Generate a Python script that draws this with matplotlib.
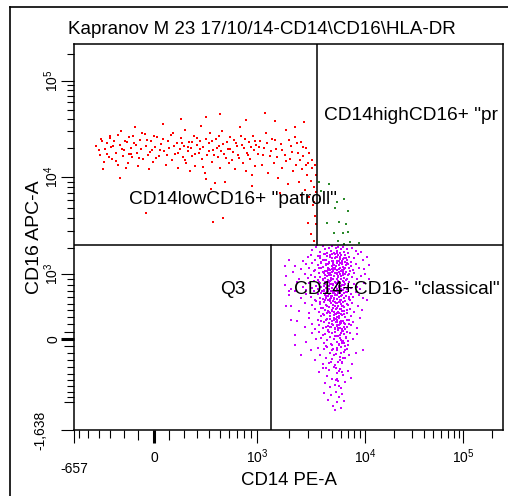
import numpy as np
import matplotlib
matplotlib.use('Agg')
import matplotlib.pyplot as plt
from matplotlib.lines import Line2D

plt.rcParams['font.family'] = ['Liberation Sans', 'DejaVu Sans']
plt.rcParams['mathtext.fontset'] = 'custom'
plt.rcParams['mathtext.rm'] = 'Liberation Sans'
plt.rcParams['mathtext.it'] = 'Liberation Sans'

TITLE = 'Kapranov M 23 17/10/14-CD14\\CD16\\HLA-DR'
X_LABEL = 'CD14 PE-A'
Y_LABEL = 'CD16 APC-A'

# axis range
X_MIN, X_MAX = -657, 262144
Y_MIN, Y_MAX = -1638, 262144

# gates (quadrant lines)
QX_UPPER = 3670
QX_LOWER = 1377
QY = 2150

# quadrant names as far as they show in the plot, and where they sit
Q_NAMES = ['CD14highCD16+ "pr', 'CD14lowCD16+ "patroll"',
           'Q3', 'CD14+CD16- "classical"']
Q_POS = [(4260, 43500), (-163, 6070), (507, 731), (2247, 731)]

# biexponential display: value -> pixel position on the original axes
X_ANCHOR_VALS = [-657, 0, 1000, 10000, 100000, 262144]
X_ANCHOR_PIX = [74, 154, 257, 365, 463, 503]
X_WIDTH = 400
Y_ANCHOR_VALS = [-1638, 0, 1000, 10000, 100000, 262144]
Y_ANCHOR_PIX = [430, 339, 274, 177, 81, 44]
Y_WIDTH = 1000

# CD14low CD16+ events (red)
RED = [
    (-420, 21000), (-390, 17000), (-380, 25000), (-350, 14500), (-340, 19500), (-330, 22500),
    (-315, 16000), (-305, 27000), (-360, 12000),
    (-295, 20500), (-285, 15500), (-270, 24000), (-255, 18000), (-245, 13500), (-230, 21500),
    (-220, 30000), (-205, 16500), (-195, 19000), (-185, 12500), (-175, 23000), (-165, 17500),
    (-160, 26000), (-230, 9700), (-170, 14000),
    (-150, 20000), (-140, 16000), (-130, 22500), (-120, 33000), (-110, 18000), (-100, 13000),
    (-90, 24500), (-80, 19500), (-70, 15500), (-60, 28000), (-50, 21000), (-40, 17000),
    (-30, 12000), (-20, 23500), (-12, 19000), (-5, 14500), (-50, 4500),
    (8, 20500), (20, 26000), (30, 16500), (45, 22000), (55, 36000), (65, 18500), (75, 13500),
    (90, 24000), (100, 20000), (115, 15000), (125, 29000), (140, 17500), (150, 22500),
    (160, 12500), (170, 19500), (180, 25500), (190, 16000), (200, 21000), (210, 31000),
    (215, 14000), (225, 18500), (235, 23000), (240, 11500), (175, 40000),
    (250, 20000), (260, 16500), (272, 27000), (285, 13000), (295, 21500), (310, 18000),
    (320, 24000), (330, 34000), (340, 15500), (350, 20500), (362, 11000), (372, 9500),
    (382, 17000), (395, 22500), (410, 28500), (425, 14500), (440, 19000), (455, 8800),
    (465, 25000), (480, 16000), (495, 21000), (510, 12500), (525, 30500), (545, 17500),
    (560, 9000), (580, 23000), (600, 14000), (370, 42000), (505, 45000), (415, 7600),
    (540, 4000), (440, 3700),
    (620, 19500), (640, 15000), (660, 24500), (680, 12000), (700, 21000), (720, 17000),
    (740, 33000), (760, 27000), (780, 14000), (800, 20000), (820, 11500), (845, 18000),
    (870, 23000), (890, 15500), (910, 10500), (930, 26500), (950, 19000), (970, 13000),
    (990, 21500), (830, 39000), (920, 8200),
    (1030, 17500), (1080, 23500), (1120, 13500), (1170, 20000), (1220, 29000), (1280, 11000),
    (1330, 16500), (1390, 25000), (1450, 14000), (1520, 19500), (1600, 9800), (1680, 22000),
    (1750, 12500), (1830, 17000), (1900, 31000), (1960, 8500), (1200, 46000), (1500, 38000),
    (1650, 7000),
    (2050, 15500), (2120, 21000), (2200, 11500), (2280, 26000), (2350, 13500), (2430, 18000),
    (2500, 9000), (2580, 23000), (2650, 12000), (2730, 16500), (2800, 7500), (2880, 20000),
    (2950, 10500), (3030, 14000), (3100, 6500), (3180, 9200), (3260, 12500), (3330, 5400),
    (3400, 8000), (3480, 4200), (3550, 10500), (3600, 3500), (2600, 6800), (3000, 3600),
    (3200, 2800), (2300, 33000), (2750, 37000), (3400, 2400),
    (-400, 19000), (-370, 23500), (-325, 17500), (-300, 25500), (-280, 21000), (-260, 14800),
    (-240, 27500), (-210, 19800), (-190, 23800), (-150, 17200), (-135, 26500), (-115, 21800),
    (-95, 15800), (-75, 29000), (-45, 24200), (-25, 18200), (0, 27000), (12, 15800),
    (38, 19200), (58, 24800), (82, 17000), (108, 27500), (132, 21200), (155, 18000),
    (185, 22800), (205, 15200), (230, 20500), (255, 23200), (278, 17200), (300, 25800),
    (325, 19800), (345, 12800), (375, 24800), (400, 18800), (430, 23800), (450, 16800),
    (470, 20200), (490, 26800), (515, 18600), (535, 22200), (570, 15800), (590, 19800),
    (610, 26200), (650, 18200), (690, 22800), (730, 15800), (770, 21800), (810, 24800),
    (855, 16800), (900, 20800), (960, 23800), (1050, 20500), (1150, 16800), (1250, 22800),
    (1350, 18800), (1480, 24200), (1560, 16200), (1720, 19200), (1880, 14800), (2000, 24500),
    (2150, 18200), (2400, 22500), (2550, 15200), (2700, 20800), (2900, 13200), (3100, 17800),
    (3300, 15200), (3500, 13200), (3600, 7200), (3450, 5800),
]

# CD14high CD16+ events (green)
GREEN = [
    (3800, 9000), (4000, 7300), (4700, 8600), (3900, 6100), (5600, 5800), (6400, 6200),
    (5300, 5000), (7000, 4700), (4500, 3600), (5800, 3700), (6700, 3500), (5200, 2850),
    (6300, 2900), (7000, 2950), (5700, 2400), (7300, 2300), (8800, 2250), (6500, 2200),
]

# CD14+ CD16- events (magenta)
MAGENTA = [
    (3300, 1900), (3600, 2050), (3900, 1820), (4100, 2100), (4300, 1950), (4500, 1780),
    (4700, 2020), (4900, 1880), (5000, 2110), (5200, 1760), (5400, 1990), (5600, 1850),
    (5700, 2080), (5900, 1800), (6100, 1940), (6300, 2060), (6500, 1830), (6800, 1970),
    (7000, 1790), (7600, 2000), (8300, 1870), (9200, 1810),
    (2700, 1450), (3000, 1600), (3200, 1700), (3500, 1480), (3700, 1650), (3900, 1550),
    (4000, 1420), (4200, 1720), (4400, 1500), (4500, 1630), (4700, 1410), (4800, 1690),
    (5000, 1560), (5100, 1460), (5300, 1740), (5400, 1600), (5600, 1430), (5700, 1670),
    (5900, 1520), (6100, 1700), (6200, 1450), (6400, 1580), (6600, 1680), (6900, 1470),
    (7200, 1620), (7500, 1400), (8000, 1550), (8600, 1720), (9500, 1480), (10500, 1600),
    (2300, 1250), (2600, 1150), (2900, 1330), (3100, 1200), (3300, 1380), (3500, 1120),
    (3700, 1290), (3800, 1180), (4000, 1360), (4100, 1240), (4300, 1110), (4400, 1320),
    (4600, 1200), (4700, 1390), (4800, 1140), (5000, 1280), (5100, 1350), (5200, 1170),
    (5400, 1250), (5500, 1390), (5600, 1130), (5800, 1310), (5900, 1210), (6000, 1100),
    (6200, 1340), (6300, 1230), (6500, 1150), (6700, 1290), (6900, 1380), (7100, 1190),
    (7400, 1260), (7800, 1120), (8200, 1330), (8800, 1210), (9800, 1150), (11000, 1300),
    (1900, 960), (2200, 1050), (2500, 900), (2800, 1010), (3000, 920), (3200, 980),
    (3400, 1080), (3500, 940), (3700, 895), (3800, 1040), (3900, 950), (4100, 910),
    (4200, 1020), (4300, 930), (4500, 1090), (4600, 890), (4700, 990), (4900, 925),
    (5000, 1060), (5100, 905), (5200, 970), (5400, 1030), (5500, 915), (5600, 1000),
    (5700, 945), (5800, 1070), (6000, 900), (6100, 960), (6300, 1045), (6400, 920),
    (6600, 1005), (6800, 910), (7000, 975), (7300, 1085), (7600, 935), (8000, 1025),
    (8500, 905), (9200, 965), (10000, 1010),
    (1850, 800), (2100, 730), (2400, 860), (2700, 770), (2900, 720), (3100, 830),
    (3300, 745), (3400, 875), (3600, 790), (3700, 725), (3800, 845), (4000, 760),
    (4100, 880), (4200, 720), (4300, 810), (4400, 740), (4500, 855), (4600, 775),
    (4700, 730), (4800, 825), (4900, 885), (5000, 755), (5100, 800), (5200, 718),
    (5300, 860), (5400, 770), (5500, 815), (5600, 735), (5700, 875), (5800, 765),
    (5900, 835), (6000, 725), (6200, 800), (6300, 870), (6400, 745), (6600, 825),
    (6800, 730), (7000, 790), (7200, 850), (7500, 740), (7900, 810), (8400, 770),
    (9000, 725), (9800, 830),
    (2000, 630), (2300, 690), (2600, 580), (2900, 650), (3200, 605), (3400, 705),
    (3500, 560), (3700, 645), (3800, 690), (3900, 590), (4000, 660), (4100, 565),
    (4200, 705), (4300, 625), (4400, 580), (4500, 675), (4600, 610), (4700, 645),
    (4800, 570), (4900, 695), (5000, 615), (5100, 665), (5200, 590), (5300, 655),
    (5400, 705), (5500, 570), (5600, 635), (5700, 685), (5800, 600), (5900, 660),
    (6000, 560), (6100, 695), (6200, 625), (6400, 585), (6500, 670), (6700, 615),
    (6900, 685), (7100, 570), (7400, 645), (7700, 600), (8200, 675), (8800, 625),
    (9500, 585),
    (2100, 460), (2500, 395), (2800, 510), (3100, 355), (3300, 480), (3500, 420),
    (3600, 540), (3800, 370), (3900, 495), (4000, 435), (4100, 345), (4200, 525),
    (4300, 405), (4400, 480), (4500, 365), (4600, 550), (4700, 450), (4800, 355),
    (4900, 505), (5000, 410), (5100, 535), (5200, 380), (5300, 465), (5400, 340),
    (5500, 515), (5600, 440), (5700, 370), (5800, 530), (5900, 425), (6000, 490),
    (6100, 345), (6300, 465), (6400, 395), (6600, 540), (6800, 355), (7000, 480),
    (7300, 420), (7600, 515), (8000, 380), (8600, 465), (9300, 405),
    (2400, 250), (2800, 160), (3100, 290), (3300, 200), (3500, 130), (3700, 265),
    (3800, 185), (4000, 315), (4100, 145), (4200, 230), (4400, 170), (4500, 280),
    (4600, 125), (4700, 215), (4800, 310), (4900, 160), (5000, 250), (5100, 185),
    (5200, 295), (5300, 135), (5400, 230), (5500, 175), (5600, 265), (5700, 145),
    (5800, 320), (5900, 205), (6100, 250), (6200, 140), (6400, 220), (6600, 300),
    (6800, 165), (7100, 265), (7400, 190), (7800, 235), (8400, 155), (9000, 285),
    (2300, 50), (2900, -35), (3300, 85), (3600, 0), (3800, 100), (4000, 15),
    (4200, -55), (4300, 70), (4500, -20), (4600, 110), (4800, 30), (4900, -75),
    (5000, 80), (5200, 5), (5300, 95), (5500, -45), (5600, 40), (5800, -85),
    (5900, 60), (6100, -10), (6300, 105), (6500, -60), (6700, 25), (7000, -30),
    (7300, 85), (7800, -5), (8500, 65),
    (3200, -160), (3500, -300), (3700, -125), (3900, -230), (4100, -355), (4200, -140),
    (4400, -265), (4500, -110), (4700, -335), (4800, -195), (5000, -280), (5100, -135),
    (5300, -365), (5400, -215), (5600, -150), (5700, -320), (5900, -250), (6000, -115),
    (6200, -340), (6400, -180), (6600, -275), (6900, -140), (7200, -230), (7600, -350),
    (8200, -195),
    (3800, -480), (4100, -410), (4300, -660), (4500, -540), (4700, -440), (4800, -720),
    (5000, -590), (5200, -395), (5300, -690), (5500, -490), (5700, -620), (5900, -425),
    (6100, -740), (6300, -525), (6600, -640), (7000, -460), (7500, -570),
    (4200, -820), (4600, -950), (4900, -860), (5100, -1080), (5400, -800), (5600, -1000),
    (5800, -900), (6200, -840), (6500, -980), (5300, -1150), (6000, -1120),
    (1850, 1250), (2000, 690), (1900, 460), (2100, 260), (2300, -90), (2600, -230),
    (2000, 1500), (10500, 560), (11000, 900), (9500, -150),
    (4420, 1310), (4630, 1040), (4790, 872), (5020, 705), (5180, 566), (5430, 418),
    (5590, 296), (5820, 188), (5980, 83), (6230, -37), (4480, 955), (4720, 782),
    (4910, 618), (5130, 484), (5290, 352), (5520, 227), (5680, 124), (5930, 12),
    (6070, -118), (6330, -262), (4280, 858), (4570, 694), (4830, 537), (4970, 392),
    (5230, 257), (5370, 152), (5640, 44), (5770, -72), (6040, -197), (6180, -328),
    (5070, 1205), (5330, 1018), (5470, 843), (5730, 664), (5870, 517), (6130, 383),
    (6270, 247), (6530, 134), (6670, 18), (6930, -88), (4680, 1163), (4940, 987),
    (5060, 824), (5320, 637), (5480, 503), (5740, 357), (5860, 232), (6140, 107),
    (6260, -23), (6540, -153), (4960, 1455), (5240, 1297), (5360, 1148), (5640, 963),
    (5760, 777), (6040, 612), (6160, 468), (6440, 343), (6560, 207), (6840, 93),
    (4230, 1496), (4370, 622), (4640, 383), (4770, 158), (5040, -82), (5170, -223),
    (5430, -418), (5570, -583), (5830, -467), (5970, -302), (5530, 1603), (5870, 1376),
    (6330, 1104), (6660, 884), (7130, 597), (7460, 322), (6370, 803), (6830, 497),
    (7170, 203), (6620, -97),
    (3850, 1630), (4150, 1480), (4350, 1750), (4550, 1350), (4750, 1590), (4950, 1720),
    (5150, 1390), (5350, 1560), (5550, 1780), (5750, 1440), (5950, 1620), (6150, 1360),
    (6350, 1520), (6550, 1410), (6750, 1560), (7050, 1340),
    (3950, 1180), (4150, 1060), (4350, 980), (4550, 1130), (4750, 1020), (4950, 1150),
    (5150, 1080), (5350, 1190), (5550, 1040), (5750, 1160), (5950, 1010), (6150, 1120),
    (6350, 990), (6550, 1210), (6750, 1060), (7150, 1000),
    (3850, 840), (4050, 700), (4250, 790), (4450, 660), (4650, 860), (4850, 700),
    (5050, 820), (5250, 680), (5450, 760), (5650, 830), (5850, 690), (6050, 790),
    (6250, 720), (6450, 860), (6650, 680), (7050, 760),
    (3900, 520), (4100, 440), (4300, 560), (4500, 470), (4700, 380), (4900, 580),
    (5100, 430), (5300, 520), (5500, 360), (5700, 470), (5900, 560), (6100, 420),
    (6300, 530), (6500, 450), (6900, 400), (7300, 560),
    (4000, 240), (4200, 330), (4400, 260), (4600, 180), (4800, 280), (5000, 200),
    (5200, 330), (5400, 270), (5600, 190), (5800, 290), (6000, 220), (6200, 330),
    (6400, 160), (6800, 260),
    (4100, 50), (4400, -100), (4700, 90), (5000, -160), (5300, 40), (5600, -120),
    (5900, 150), (6200, -60), (6500, 70),
    (4400, -420), (4900, -330), (5400, -600), (5800, -700), (6200, -480),
]

RED_COLOR = '#ff0000'
GREEN_COLOR = '#2a8a2a'
MAGENTA_COLOR = '#cc00ff'


def biex_scale(vals, pix, width, flip=False):
    """Piecewise biexponential-like scale through the anchor ticks."""
    u = np.arcsinh(np.asarray(vals, float) / width)
    p = np.asarray(pix, float)
    if flip:
        p = -p
    # extend linearly past the ends so the mapping stays invertible
    s0 = (p[1] - p[0]) / (u[1] - u[0])
    s1 = (p[-1] - p[-2]) / (u[-1] - u[-2])
    u = np.concatenate([[u[0] - 50], u, [u[-1] + 50]])
    p = np.concatenate([[p[0] - 50 * s0], p, [p[-1] + 50 * s1]])

    def fwd(v):
        return np.interp(np.arcsinh(np.asarray(v, float) / width), u, p)

    def inv(q):
        return width * np.sinh(np.interp(np.asarray(q, float), p, u))

    return fwd, inv


def sup(n):
    return r'$\mathregular{10^{%d}}$' % n


fig = plt.figure(figsize=(5.08, 4.96), dpi=100)
fig.patch.set_facecolor('white')
ax = fig.add_axes([74 / 508, 66 / 496, 429 / 508, 386 / 496])

ax.set_xscale('function', functions=biex_scale(X_ANCHOR_VALS, X_ANCHOR_PIX, X_WIDTH))
ax.set_yscale('function', functions=biex_scale(Y_ANCHOR_VALS, Y_ANCHOR_PIX, Y_WIDTH, flip=True))
ax.set_xlim(X_MIN, X_MAX)
ax.set_ylim(Y_MIN, Y_MAX)

for pts, col, size in [(RED, RED_COLOR, 3.0), (GREEN, GREEN_COLOR, 3.0), (MAGENTA, MAGENTA_COLOR, 3.5)]:
    xs, ys = np.array(pts, float).T
    ax.scatter(xs, ys, s=size, c=col, marker='s', linewidths=0, zorder=2)

# quadrant gates
ax.plot([QX_UPPER, QX_UPPER], [QY, Y_MAX], color='black', lw=1.1, zorder=3)
ax.plot([QX_LOWER, QX_LOWER], [Y_MIN, QY], color='black', lw=1.1, zorder=3)
ax.plot([X_MIN, X_MAX], [QY, QY], color='black', lw=1.1, zorder=3)

for name, (qx, qy) in zip(Q_NAMES, Q_POS):
    ax.text(qx, qy, name, fontsize=13.8, ha='left', va='center', clip_on=True, zorder=4)

for sp in ax.spines.values():
    sp.set_linewidth(1.1)

ax.tick_params(which='both', direction='out', width=0.8, colors='black', labelsize=10)
ax.tick_params(which='major', length=9.4)
ax.tick_params(which='minor', length=5.4)
ax.tick_params(axis='x', which='major', pad=14)
ax.tick_params(axis='y', which='major', pad=0)

X_MAJOR = [-657, 0, 1000, 10000, 100000]
X_MAJOR_LABELS = ['', '0', sup(3), sup(4), sup(5)]
X_MINOR = ([-600, -500, -400, -300, -200, -100] + list(range(100, 1000, 100))
           + list(range(2000, 10000, 1000)) + list(range(20000, 100000, 10000)) + [200000])
Y_MAJOR = [-1638, 0, 1000, 10000, 100000]
Y_MAJOR_LABELS = ['', '0', sup(3), sup(4), sup(5)]
Y_MINOR = (list(range(-1000, 0, 100)) + list(range(100, 1000, 100))
           + list(range(2000, 10000, 1000)) + list(range(20000, 100000, 10000)) + [200000])

ax.set_xticks(X_MAJOR)
ax.set_xticklabels(X_MAJOR_LABELS, va='baseline')
ax.set_xticks(X_MINOR, minor=True)
ax.set_yticks(Y_MAJOR)
ax.set_yticklabels(Y_MAJOR_LABELS, rotation=90, va='center')
ax.set_yticks(Y_MINOR, minor=True)

# thick zero ticks, medium ticks around zero and at -1000
ax.xaxis.get_major_ticks()[1].tick1line.set_markeredgewidth(2.2)
ax.yaxis.get_major_ticks()[1].tick1line.set_markeredgewidth(2.2)
xmin_ticks = ax.xaxis.get_minor_ticks()
for i, v in enumerate(X_MINOR):
    if v in (-100, 100):
        xmin_ticks[i].tick1line.set_markersize(7.4)
ymin_ticks = ax.yaxis.get_minor_ticks()
for i, v in enumerate(Y_MINOR):
    if v in (-1000, -100, 100):
        ymin_ticks[i].tick1line.set_markersize(7.4)

# the two negative limits are labelled off the normal spot
ax.text(X_MIN, -0.111, '-657', transform=ax.get_xaxis_transform(), fontsize=10,
        ha='center', va='baseline')
ax.text(-0.063, Y_MIN, '-1,638', transform=ax.get_yaxis_transform(), fontsize=10,
        ha='right', va='center', rotation=90)

ax.text(0.5, -0.13, X_LABEL, transform=ax.transAxes, fontsize=13.4, ha='center', va='center')
ax.text(-0.093, 0.5, Y_LABEL, transform=ax.transAxes, fontsize=14, ha='center', va='center',
        rotation=90)

fig.text(68 / 508, 1 - 30 / 496, TITLE, fontsize=13.5, ha='left', va='center')

# outer panel frame
fig.add_artist(Line2D([10 / 508, 10 / 508], [0, 1 - 7 / 496], color='black', lw=1.2,
                      transform=fig.transFigure))
fig.add_artist(Line2D([10 / 508, 1], [1 - 7 / 496, 1 - 7 / 496], color='black', lw=1.2,
                      transform=fig.transFigure))

fig.savefig('out.png', dpi=100)
